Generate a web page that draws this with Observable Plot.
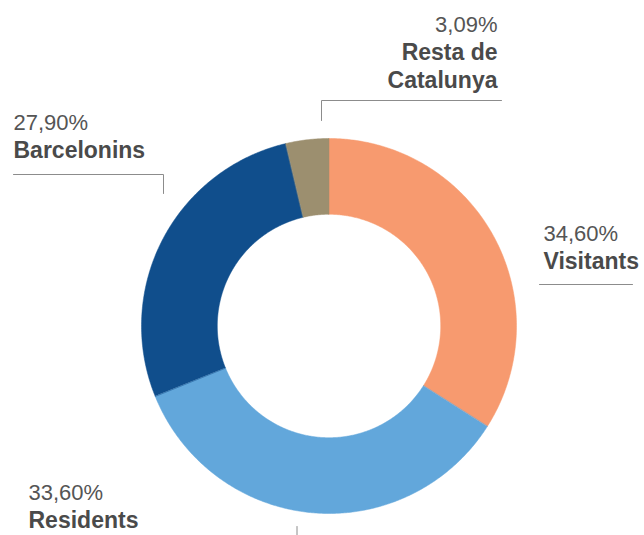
<!DOCTYPE html>
<html>
<head>
<meta charset="utf-8">
<script src="https://cdn.jsdelivr.net/npm/d3@7"></script>
<script src="https://cdn.jsdelivr.net/npm/@observablehq/plot@0.6"></script>
<style>
  html, body { margin: 0; padding: 0; background: #fff; overflow: hidden; }
  #chart svg { display: block; }
</style>
</head>
<body>
<div id="chart"></div>
<script>
// ---- data ----
const categories = ["Visitants", "Residents", "Barcelonins", "Resta de Catalunya"];
const labelPercents = [34.60, 33.60, 27.90, 3.09];       // printed values
const arcShares = [34.0, 34.9, 27.4, 3.7];               // slice sizes as drawn
const nameLines = [["Visitants"], ["Residents"], ["Barcelonins"], ["Resta de", "Catalunya"]];

// ---- style / layout ----
const colors = ["#F79A6F", "#62A7DB", "#104E8C", "#9C8F6F"];
const W = 644, H = 535;
const cx = 329, cy = 326, rInner = 111.7, rOuter = 187.5;
const lineGap = 28;
const labelLayout = {
  "Visitants":          {x: 543, y: 268, anchor: "start", leader: [[539, 284], [632, 284]]},
  "Residents":          {x: 28,  y: 527, anchor: "start", leader: [[296.5, 526], [296.5, 550]]},
  "Barcelonins":        {x: 13,  y: 157, anchor: "start", leader: [[13, 174], [163, 174], [163, 193]]},
  "Resta de Catalunya": {x: 497, y: 87,  anchor: "end",   leader: [[321, 120], [321, 100], [501, 100]]}
};

const table = categories.map((c, i) => ({cat: c, share: arcShares[i], pct: labelPercents[i], lines: nameLines[i]}));
const arcs = d3.pie().sort(null).value(d => d.share)(table);

const ring = [];
for (const a of arcs) {
  const n = Math.max(2, Math.ceil((a.endAngle - a.startAngle) / (Math.PI / 360)));
  for (let i = 0; i <= n; i++) {
    const t = a.startAngle + (a.endAngle - a.startAngle) * i / n;
    ring.push({
      cat: a.data.cat,
      xo: cx + rOuter * Math.sin(t), yo: cy - rOuter * Math.cos(t),
      xi: cx + rInner * Math.sin(t), yi: cy - rInner * Math.cos(t)
    });
  }
}

const leaders = table.flatMap(d => labelLayout[d.cat].leader.map(([x, y]) => ({cat: d.cat, x, y})));

const fmt = v => v.toFixed(2).replace(".", ",") + "%";
const textMarks = table.flatMap(d => {
  const L = labelLayout[d.cat];
  const firstBaseline = L.y - (d.lines.length - 1) * lineGap;
  return [
    Plot.text([d], {
      x: () => L.x, y: () => firstBaseline - lineGap, text: dd => fmt(dd.pct),
      textAnchor: L.anchor, lineAnchor: "bottom", fontSize: 22, fill: "#555555"
    }),
    Plot.text([d], {
      x: () => L.x, y: () => L.y, text: dd => dd.lines.join("\n"),
      textAnchor: L.anchor, lineAnchor: "bottom", lineHeight: lineGap / 23,
      fontSize: 23, fontWeight: "bold", fill: "#4a4a4a"
    })
  ];
});

const chart = Plot.plot({
  width: W, height: H, margin: 0,
  x: {domain: [0, W], range: [0, W], axis: null},
  y: {domain: [0, H], range: [0, H], axis: null},
  color: {domain: categories, range: colors},
  style: {fontFamily: "'Liberation Sans', Arial, sans-serif", background: "#fff"},
  marks: [
    Plot.area(ring, {x1: "xo", y1: "yo", x2: "xi", y2: "yi", z: "cat", fill: "cat", stroke: "cat", strokeWidth: 0.5}),
    Plot.line(leaders, {x: "x", y: "y", z: "cat", stroke: "#8c8c8c", strokeWidth: 1}),
    ...textMarks
  ]
});
document.getElementById("chart").appendChild(chart);
</script>
</body>
</html>
